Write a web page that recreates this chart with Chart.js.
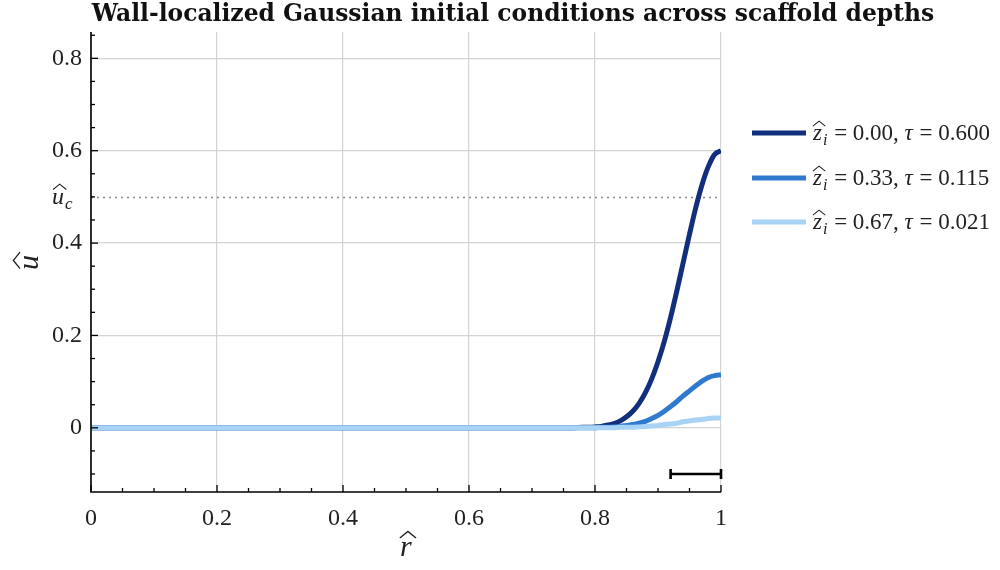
<!DOCTYPE html>
<html>
<head>
<meta charset="utf-8">
<script src="https://cdn.jsdelivr.net/npm/chart.js@4/dist/chart.umd.min.js"></script>
<style>
  html, body { margin: 0; padding: 0; background: #fff; }
  #wrap { width: 1000px; height: 570px; }
</style>
</head>
<body>
<div id="wrap"><canvas id="myChart" width="1000" height="570"></canvas></div>
<script>
// ----------------------------
// data
// ----------------------------
const rValues = [0, 0.1, 0.2, 0.3, 0.4, 0.5, 0.6, 0.7, 0.74, 0.76, 0.78, 0.80, 0.81, 0.82, 0.83, 0.84,
    0.85, 0.86, 0.87, 0.88, 0.89, 0.90, 0.91, 0.92, 0.93, 0.94, 0.95, 0.96, 0.97, 0.98, 0.99, 1.00];
const uDepth000 = [0, 0, 0, 0, 0, 0, 0, 0, 0, 0.000, 0.001, 0.002, 0.003, 0.006, 0.009, 0.015,
    0.024, 0.036, 0.053, 0.076, 0.106, 0.143, 0.187, 0.239, 0.297, 0.358, 0.419, 0.477, 0.527, 0.566, 0.592, 0.600];
const uDepth033 = [0, 0, 0, 0, 0, 0, 0, 0, 0, 0, 0, 0.000, 0.001, 0.001, 0.002, 0.003,
    0.005, 0.007, 0.010, 0.014, 0.020, 0.027, 0.036, 0.046, 0.057, 0.069, 0.080, 0.091, 0.101, 0.109, 0.113, 0.115];
const uDepth067 = [0, 0, 0, 0, 0, 0, 0, 0, 0, 0, 0, 0, 0, 0, 0.000, 0.001,
    0.001, 0.001, 0.002, 0.003, 0.004, 0.005, 0.007, 0.008, 0.010, 0.013, 0.015, 0.017, 0.018, 0.020, 0.021, 0.021];

const seriesNames = ['0.00', '0.33', '0.67'];
const seriesTau = ['0.600', '0.115', '0.021'];
const seriesColors = ['#112f7c', '#2f79cf', '#a9d3f4'];

const xTickLabels = ['0', '0.2', '0.4', '0.6', '0.8', '1'];
const yTickLabels = ['0', '0.2', '0.4', '0.6', '0.8'];
const uCritical = 0.5;
const scaleBar = [0.92, 1.0];
const scaleBarLevel = -0.1;

const SERIF = "'Liberation Serif', 'DejaVu Serif', serif";

function near(v, list) {
    return list.some(t => Math.abs(parseFloat(t) - v) < 1e-6);
}

function fmt(v) {
    const r = Math.round(v * 100) / 100;
    return r === 0 ? '0' : String(r);
}

// italic letter with a wide hat, optional subscript; returns the next x
function hatVar(c, x, base, letter, size, sub, color) {
    c.fillStyle = color;
    c.strokeStyle = color;
    c.font = `italic ${size}px ${SERIF}`;
    c.textAlign = 'left';
    c.textBaseline = 'alphabetic';
    c.fillText(letter, x, base);
    const w = c.measureText(letter).width;
    const cx = x + w / 2 + size * 0.07;
    const hw = Math.max(w * 0.55, size * 0.27);
    c.beginPath();
    c.moveTo(cx - hw, base - size * 0.6);
    c.lineTo(cx, base - size * 0.82);
    c.lineTo(cx + hw, base - size * 0.6);
    c.lineWidth = Math.max(1, size * 0.045);
    c.lineJoin = 'miter';
    c.stroke();
    let nx = x + w;
    if (sub) {
        c.font = `italic ${Math.round(size * 0.7)}px ${SERIF}`;
        c.fillText(sub, nx + 1, base + size * 0.22);
        nx += c.measureText(sub).width + 2;
    }
    return nx;
}

const decorations = {
    id: 'decorations',
    beforeDatasetsDraw(chart) {
        const c = chart.ctx;
        const area = chart.chartArea;
        const y = chart.scales.y;
        // critical level, dotted
        c.save();
        c.strokeStyle = '#8a8a8a';
        c.lineWidth = 1.6;
        c.setLineDash([2, 4]);
        c.beginPath();
        const yc = Math.round(y.getPixelForValue(uCritical)) + 0.5;
        c.moveTo(area.left, yc);
        c.lineTo(area.right, yc);
        c.stroke();
        c.restore();
    },
    afterDraw(chart) {
        const c = chart.ctx;
        const area = chart.chartArea;
        const xs = chart.scales.x;
        const ys = chart.scales.y;
        c.save();

        // spines
        c.strokeStyle = '#000';
        c.lineWidth = 1.6;
        c.beginPath();
        c.moveTo(area.left, area.top);
        c.lineTo(area.left, area.bottom);
        c.lineTo(area.right, area.bottom);
        c.stroke();

        // inward tick marks
        c.lineWidth = 1.3;
        xs.ticks.forEach(t => {
            const px = xs.getPixelForValue(t.value);
            const len = near(t.value, xTickLabels) ? 7 : 4;
            c.beginPath();
            c.moveTo(px, area.bottom);
            c.lineTo(px, area.bottom - len);
            c.stroke();
        });
        ys.ticks.forEach(t => {
            const py = ys.getPixelForValue(t.value);
            const len = near(t.value, yTickLabels) ? 7 : 4;
            c.beginPath();
            c.moveTo(area.left, py);
            c.lineTo(area.left + len, py);
            c.stroke();
        });

        // scale bar
        const bx0 = xs.getPixelForValue(scaleBar[0]);
        const bx1 = xs.getPixelForValue(scaleBar[1]);
        const by = ys.getPixelForValue(scaleBarLevel);
        c.lineWidth = 2.6;
        c.beginPath();
        c.moveTo(bx0, by);
        c.lineTo(bx1, by);
        c.moveTo(bx0, by - 5);
        c.lineTo(bx0, by + 5);
        c.moveTo(bx1, by - 5);
        c.lineTo(bx1, by + 5);
        c.stroke();

        // u_c label on the y axis
        hatVar(c, area.left - 39, ys.getPixelForValue(uCritical) + 7, 'u', 24, 'c', '#222');

        // axis titles
        hatVar(c, (area.left + area.right) / 2 - 6, 556, 'r', 30, null, '#222');
        c.save();
        c.translate(38, (area.top + area.bottom) / 2);
        c.rotate(-Math.PI / 2);
        hatVar(c, -8, 0, 'u', 30, null, '#222');
        c.restore();

        // title
        c.fillStyle = '#111';
        c.font = `bold 23.4px 'DejaVu Serif', serif`;
        c.textAlign = 'center';
        c.textBaseline = 'alphabetic';
        c.fillText('Wall-localized Gaussian initial conditions across scaffold depths', 513, 21);

        // legend
        const lx = 752;
        const rowY = [133, 178, 222];
        seriesNames.forEach((name, i) => {
            const yy = rowY[i];
            c.strokeStyle = seriesColors[i];
            c.lineWidth = 5;
            c.lineCap = 'butt';
            c.beginPath();
            c.moveTo(lx, yy);
            c.lineTo(lx + 54, yy);
            c.stroke();
            const base = yy + 7;
            let nx = hatVar(c, lx + 61, base, 'z', 23, 'i', '#222');
            c.font = `23px ${SERIF}`;
            c.fillStyle = '#222';
            c.textAlign = 'left';
            const t1 = ' = ' + name + ', ';
            c.fillText(t1, nx, base);
            nx += c.measureText(t1).width;
            c.font = `italic 23px ${SERIF}`;
            c.fillText('\u03C4', nx, base);
            nx += c.measureText('\u03C4').width;
            c.font = `23px ${SERIF}`;
            c.fillText(' = ' + seriesTau[i], nx + 1, base);
        });
        c.restore();
    }
};

const ctx = document.getElementById('myChart').getContext('2d');
const seriesData = [uDepth000, uDepth033, uDepth067];

const chart = new Chart(ctx, {
    type: 'line',
    data: {
        datasets: seriesData.map((vals, i) => ({
            label: `z_i = ${seriesNames[i]}, tau = ${seriesTau[i]}`,
            data: rValues.map((r, k) => ({ x: r, y: vals[k] })),
            borderColor: seriesColors[i],
            backgroundColor: seriesColors[i],
            borderWidth: 5,
            pointRadius: 0,
            cubicInterpolationMode: 'monotone',
            fill: false,
            order: 2 - i
        }))
    },
    options: {
        responsive: false,
        animation: false,
        layout: { padding: { top: 32, right: 279, left: 0, bottom: 0 } },
        plugins: {
            legend: { display: false },
            title: { display: false },
            tooltip: { enabled: false }
        },
        scales: {
            x: {
                type: 'linear',
                min: 0,
                max: 1,
                afterFit: (s) => { s.height = 78; },
                border: { display: false },
                grid: {
                    drawTicks: false,
                    color: (c) => near(c.tick.value, xTickLabels) ? '#d4d4d4' : 'rgba(0,0,0,0)',
                    lineWidth: 1.2
                },
                ticks: {
                    stepSize: 0.05,
                    includeBounds: false,
                    autoSkip: false,
                    maxRotation: 0,
                    padding: 12,
                    color: '#222',
                    font: { family: SERIF, size: 24 },
                    callback: (v) => near(v, xTickLabels) ? fmt(v) : ''
                }
            },
            y: {
                type: 'linear',
                min: -0.139,
                max: 0.857,
                afterFit: (s) => { s.width = 91; },
                border: { display: false },
                grid: {
                    drawTicks: false,
                    color: (c) => near(c.tick.value, yTickLabels) ? '#d4d4d4' : 'rgba(0,0,0,0)',
                    lineWidth: 1.2
                },
                ticks: {
                    stepSize: 0.05,
                    includeBounds: false,
                    autoSkip: false,
                    padding: 9,
                    color: '#222',
                    font: { family: SERIF, size: 24 },
                    callback: (v) => near(v, yTickLabels) ? fmt(v) : ''
                }
            }
        }
    },
    plugins: [decorations]
});
</script>
</body>
</html>
